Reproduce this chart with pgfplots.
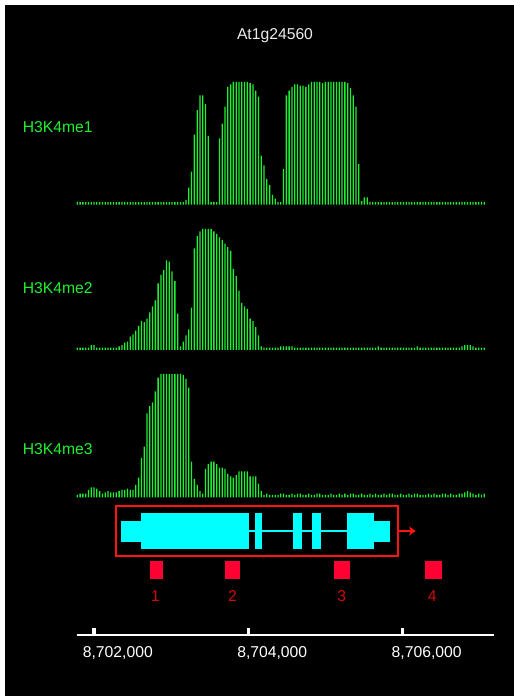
\documentclass[border=0pt]{standalone}
\usepackage{fontspec}
\setmainfont{Liberation Sans}
\usepackage{pgfplots}
\pgfplotsset{compat=1.18}
\usepackage{pgfplotstable}
\usetikzlibrary{arrows.meta}

\definecolor{trackgreen}{RGB}{30,240,50}
\definecolor{titlegray}{RGB}{235,235,235}
\definecolor{genecyan}{RGB}{0,255,255}
\definecolor{boxred}{RGB}{255,20,20}
\definecolor{sqred}{RGB}{255,0,51}
\definecolor{numred}{RGB}{210,10,10}
\newcommand\chartfont{\fontsize{15.7bp}{18bp}\selectfont}

% probe signal (percent of track maximum), probes every ~36 bp from 8,701,784
\pgfplotstableread{
h1 h2 h3
2 2 2
2 2 3
2 2 3
2 2 3
2 2 6
2 4 8
2 4 8
2 2 7
2 2 5
2 2 3
2 2 4
2 2 5
2 2 4
2 2 4
2 2 4
2 3 5
2 4 6
2 6 6
2 7 7
2 11 6
2 13 6
2 16 10
2 20 16
2 24 32
2 23 41
2 26 68
2 31 74
2 36 77
2 41 86
2 55 97
2 62 100
2 66 100
2 74 100
2 73 100
2 65 100
2 57 100
2 30 100
2 3 100
2 7 99
4 12 96
14 17 89
27 35 29
57 84 15
77 94 10
89 98 5
89 100 3
82 100 23
56 100 27
2 100 29
2 98 29
2 96 27
54 93 24
66 91 24
80 88 23
96 85 19
98 82 17
100 67 16
100 61 18
100 49 21
100 39 21
100 36 21
100 34 21
99 26 17
98 24 17
93 19 17
88 12 11
40 3 5
32 2 2
21 2 3
16 2 2
8 2 2
5 2 2
2 2 2
2 3 3
29 3 3
89 3 2
93 3 2
96 3 3
98 2 2
98 2 3
97 2 3
97 2 2
96 2 2
98 2 3
100 2 2
100 2 2
100 2 3
100 2 3
99 2 2
100 2 2
100 2 2
100 2 3
100 2 2
100 2 2
100 2 3
100 2 2
100 2 3
99 2 2
95 2 3
89 2 3
80 2 2
33 2 2
3 2 3
6 2 2
6 2 2
2 2 3
2 2 2
2 2 3
2 3 2
2 2 2
2 2 3
2 2 2
2 2 3
2 2 3
2 2 2
2 2 2
2 2 3
2 2 2
2 2 2
2 2 3
2 2 2
2 2 3
2 3 3
2 2 2
2 2 2
2 2 2
2 2 3
2 2 2
2 2 3
2 2 2
2 2 2
2 2 3
2 2 3
2 2 2
2 2 3
2 2 2
2 2 2
2 2 3
2 3 3
2 4 4
2 4 5
2 4 4
2 3 3
2 2 2
2 2 3
2 2 2
2 2 3
}\tracks

\pgfplotsset{
  track/.style={hide axis, scale only axis, anchor=south west,
    width=417.6bp, xmin=1776, xmax=7185, ymin=0, ymax=100},
  trackbar/.style={ybar, bar width=1.3bp, fill=trackgreen, draw=none, mark=none},
}

\begin{document}
\begin{tikzpicture}[x=1bp,y=1bp]
\fill[white] (0,0) rectangle (514,696);
\fill[black] (4.5,-10) rectangle (530,691);

\node[anchor=base, text=titlegray, font=\chartfont, inner sep=0] at (275,656) {At1g24560};
\node[anchor=base west, text=trackgreen, font=\chartfont, inner sep=0] at (22.7,563.3) {H3K4me1};
\node[anchor=base west, text=trackgreen, font=\chartfont, inner sep=0] at (22.7,402) {H3K4me2};
\node[anchor=base west, text=trackgreen, font=\chartfont, inner sep=0] at (22.7,241) {H3K4me3};

\begin{axis}[track, at={(76.7bp,491.3bp)}, height=122.7bp]
\addplot[trackbar] table[x expr=1784+36.1*\coordindex, y=h1]{\tracks};
\end{axis}

\begin{axis}[track, at={(76.7bp,346bp)}, height=121bp]
\addplot[trackbar] table[x expr=1784+36.1*\coordindex, y=h2]{\tracks};
\end{axis}

\begin{axis}[track, at={(76.7bp,198.7bp)}, height=123.3bp]
\addplot[trackbar] table[x expr=1784+36.1*\coordindex, y=h3]{\tracks};
\end{axis}

\begin{axis}[scale only axis, anchor=south west, at={(76.7bp,61bp)},
  width=417.6bp, height=135bp, xmin=1776, xmax=7185, ymin=0, ymax=135,
  clip=false, axis x line=bottom, axis y line=none,
  axis line style={white, line width=2.3bp, -},
  xtick={2000,4000,6000},
  xticklabels={{8,702,000},{8,704,000},{8,706,000}},
  tick align=inside, major tick length=7bp,
  xtick style={white, line width=3.3bp},
  xticklabel style={text=white, font=\chartfont, anchor=north west, inner sep=0pt,
    xshift=-11.3bp, yshift=-11.5bp},
  ytick=\empty]
% gene model
\addplot[boxred, line width=2bp, mark=none] coordinates {(2281,79) (5942,79) (5942,129) (2281,129)} -- cycle;
\addplot[boxred, line width=2bp, mark=none, -{Stealth[length=6.5bp,width=9bp,inset=1.5bp]}] coordinates {(5942,104) (6167,104)};
\addplot[genecyan, line width=1.6bp, mark=none] coordinates {(4004,104) (5273,104)};
\addplot[fill=genecyan, draw=none, mark=none] coordinates {(2350,93) (2609,93) (2609,114) (2350,114)} -- cycle;
\addplot[fill=genecyan, draw=none, mark=none] coordinates {(2609,86) (4004,86) (4004,121.7) (2609,121.7)} -- cycle;
\addplot[fill=genecyan, draw=none, mark=none] coordinates {(4086,86) (4176,86) (4176,121.7) (4086,121.7)} -- cycle;
\addplot[fill=genecyan, draw=none, mark=none] coordinates {(4582,86) (4694,86) (4694,121.7) (4582,121.7)} -- cycle;
\addplot[fill=genecyan, draw=none, mark=none] coordinates {(4824,86) (4940,86) (4940,121.7) (4824,121.7)} -- cycle;
\addplot[fill=genecyan, draw=none, mark=none] coordinates {(5273,86) (5627,86) (5627,121.7) (5273,121.7)} -- cycle;
\addplot[fill=genecyan, draw=none, mark=none] coordinates {(5627,93) (5834,93) (5834,114) (5627,114)} -- cycle;
% numbered regions
\addplot[fill=sqred, draw=none, mark=none] coordinates {(2725,56) (2890,56) (2890,74) (2725,74)} -- cycle;
\addplot[fill=sqred, draw=none, mark=none] coordinates {(3697,56) (3891,56) (3891,74) (3697,74)} -- cycle;
\addplot[fill=sqred, draw=none, mark=none] coordinates {(5109,56) (5316,56) (5316,74) (5109,74)} -- cycle;
\addplot[fill=sqred, draw=none, mark=none] coordinates {(6288,56) (6508,56) (6508,74) (6288,74)} -- cycle;
\node[anchor=base, text=numred, font=\chartfont, inner sep=0] at (axis cs:2797,33.3) {1};
\node[anchor=base, text=numred, font=\chartfont, inner sep=0] at (axis cs:3794,33.3) {2};
\node[anchor=base, text=numred, font=\chartfont, inner sep=0] at (axis cs:5208,33.3) {3};
\node[anchor=base, text=numred, font=\chartfont, inner sep=0] at (axis cs:6381,33.3) {4};
\end{axis}

\pgfresetboundingbox
\useasboundingbox (0,0) rectangle (514,696);
\end{tikzpicture}
\end{document}
